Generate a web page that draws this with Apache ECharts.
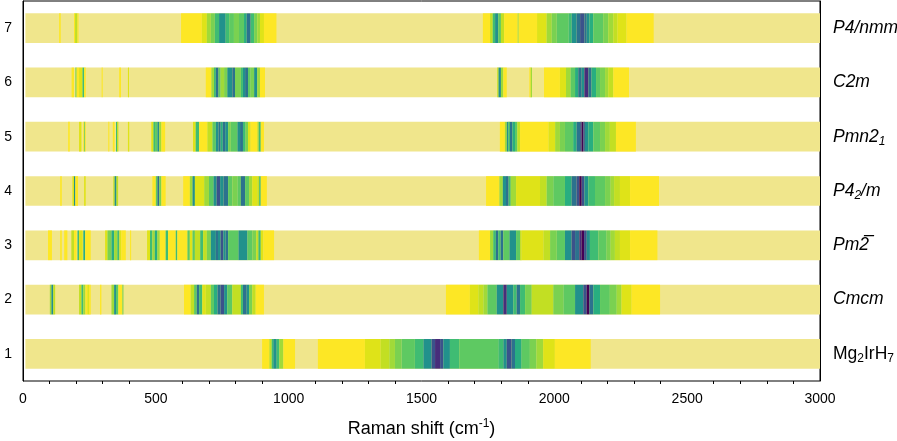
<!DOCTYPE html>
<html>
<head>
<meta charset="utf-8">
<script src="https://cdn.jsdelivr.net/npm/echarts@6/dist/echarts.min.js"></script>
<style>
  html, body { margin: 0; padding: 0; background: #fff; }
  #chart { width: 897px; height: 441px; }
</style>
</head>
<body>
<div id="chart"></div>
<script>
// Row labels on the left axis (bottom to top)
const rowTicks = ['1', '2', '3', '4', '5', '6', '7'];

// Phase names shown on the right, bottom to top
const phaseNames = ['Mg2IrH7', 'Cmcm', 'Pm2bar', 'P42/m', 'Pmn21', 'C2m', 'P4/nmm'];

// Spectral range covered by each band (cm^-1)
const bandRange = [9, 3000];

// Raman stripes per structure: [from cm^-1, to cm^-1, intensity level 0..12]
const row1 = [
  [900, 927, 0], [927, 936, 2], [936, 942, 6], [942, 955, 8], [955, 965, 6], [965, 980, 3], [980, 1024, 0],
  [1110, 1287, 0], [1287, 1346, 1], [1346, 1379, 2], [1379, 1400, 3], [1400, 1425, 4], [1425, 1475, 5],
  [1475, 1507, 6], [1507, 1538, 8], [1538, 1551, 10], [1551, 1570, 11], [1570, 1582, 10], [1582, 1607, 8],
  [1607, 1642, 6], [1642, 1789, 5], [1789, 1808, 6], [1808, 1821, 8], [1821, 1839, 10], [1839, 1852, 9],
  [1852, 1877, 7], [1877, 1908, 5], [1908, 1933, 4], [1933, 1958, 3], [1958, 2002, 1], [2002, 2137, 0]
];
const row2 = [
  [101, 107, 3], [107, 114, 8], [114, 121, 2],
  [211, 220, 2], [220, 227, 6], [227, 235, 3], [235, 242, 0], [242, 249, 1], [249, 255, 0],
  [290, 295, 0],
  [333, 343, 3], [343, 350, 8], [350, 359, 5], [359, 374, 0], [374, 378, 4],
  [606, 631, 0], [631, 644, 2], [644, 654, 5], [654, 663, 9], [663, 675, 6], [675, 688, 1], [688, 707, 2],
  [707, 719, 5], [719, 732, 7], [732, 744, 9], [744, 757, 10], [757, 769, 8], [769, 788, 5], [788, 820, 2],
  [820, 828, 6], [828, 842, 9], [842, 851, 8], [851, 863, 4], [863, 876, 2], [876, 907, 0],
  [1592, 1682, 0], [1682, 1714, 1], [1714, 1733, 2], [1733, 1748, 3], [1748, 1783, 5], [1783, 1808, 8],
  [1808, 1821, 11], [1821, 1846, 8], [1846, 1858, 6], [1858, 1871, 9], [1871, 1890, 6], [1890, 1915, 4],
  [1915, 1996, 2], [1996, 2034, 4], [2034, 2078, 5], [2078, 2109, 8], [2109, 2122, 10], [2122, 2132, 12],
  [2132, 2147, 9], [2147, 2172, 7], [2172, 2209, 5], [2209, 2235, 4], [2235, 2253, 3], [2253, 2291, 1],
  [2291, 2398, 0]
];
const row3 = [
  [94, 109, 0], [140, 146, 0], [155, 167, 0],
  [182, 192, 2], [192, 202, 0], [205, 211, 6], [211, 225, 1], [227, 234, 7], [234, 255, 0],
  [309, 318, 1], [318, 333, 4], [333, 343, 7], [343, 355, 3], [355, 363, 6], [363, 370, 1], [370, 387, 0],
  [403, 407, 0],
  [467, 478, 1], [478, 487, 6], [487, 496, 3], [496, 506, 7], [506, 515, 3], [515, 537, 0], [537, 546, 6],
  [546, 575, 0], [575, 581, 6], [581, 619, 0], [619, 628, 5], [628, 638, 1], [638, 647, 5], [647, 667, 2],
  [667, 678, 6], [678, 692, 2], [692, 707, 4], [707, 726, 8], [726, 734, 9], [734, 744, 8], [744, 754, 10],
  [754, 763, 8], [763, 772, 9], [772, 811, 5], [811, 845, 8], [845, 863, 5], [863, 878, 4], [878, 886, 2],
  [886, 895, 6], [895, 905, 1], [905, 945, 0],
  [1716, 1758, 0], [1758, 1770, 3], [1770, 1780, 6], [1780, 1789, 9], [1789, 1798, 6], [1798, 1808, 9],
  [1808, 1831, 5], [1831, 1856, 8], [1856, 1871, 5], [1871, 1877, 2], [1877, 1959, 1], [1959, 1984, 2],
  [1984, 2009, 4], [2009, 2040, 5], [2040, 2065, 8], [2065, 2078, 10], [2078, 2094, 9], [2094, 2103, 11],
  [2103, 2112, 12], [2112, 2122, 10], [2122, 2134, 8], [2134, 2166, 6], [2166, 2197, 5], [2197, 2212, 4],
  [2212, 2228, 3], [2228, 2247, 2], [2247, 2285, 1], [2285, 2388, 0]
];
const row4 = [
  [140, 146, 0], [186, 192, 1], [192, 197, 8], [197, 207, 0], [230, 236, 1],
  [340, 345, 2], [345, 352, 8], [352, 358, 2],
  [487, 500, 0], [500, 506, 5], [506, 513, 9], [513, 521, 4], [521, 537, 0],
  [603, 628, 0], [628, 638, 3], [638, 647, 8], [647, 682, 1], [682, 700, 3], [700, 717, 5], [717, 729, 8],
  [729, 742, 10], [742, 755, 8], [755, 772, 9], [772, 788, 5], [788, 807, 4], [807, 820, 5], [820, 836, 9],
  [836, 851, 5], [851, 863, 3], [863, 882, 1], [882, 889, 2], [889, 895, 6], [895, 918, 0],
  [1743, 1793, 0], [1793, 1806, 3], [1806, 1818, 8], [1818, 1828, 9], [1828, 1836, 6], [1836, 1856, 3],
  [1856, 1946, 1], [1946, 1971, 2], [1971, 1996, 4], [1996, 2040, 5], [2040, 2065, 7], [2065, 2084, 9],
  [2084, 2094, 10], [2094, 2103, 12], [2103, 2113, 10], [2113, 2128, 8], [2128, 2153, 6], [2153, 2191, 5],
  [2191, 2212, 4], [2212, 2225, 3], [2225, 2247, 2], [2247, 2285, 1], [2285, 2394, 0]
];
const row5 = [
  [170, 176, 0], [211, 220, 1], [227, 230, 0], [230, 233, 5], [233, 236, 0],
  [321, 325, 0], [338, 345, 0], [350, 354, 6], [354, 359, 2], [395, 400, 1],
  [483, 491, 1], [491, 497, 6], [497, 506, 5], [506, 513, 8], [513, 521, 3], [521, 535, 0],
  [640, 650, 1], [650, 663, 6], [663, 694, 0], [694, 713, 2], [713, 726, 5], [726, 736, 8], [736, 744, 9],
  [744, 752, 7], [752, 761, 9], [761, 772, 8], [772, 782, 4], [782, 807, 5], [807, 817, 8], [817, 828, 9],
  [828, 838, 6], [838, 847, 4], [847, 857, 1], [857, 882, 0], [882, 887, 2], [887, 895, 6], [895, 907, 0],
  [1795, 1814, 0], [1814, 1821, 3], [1821, 1827, 8], [1827, 1833, 6], [1833, 1842, 9], [1842, 1852, 7],
  [1852, 1861, 5], [1861, 1871, 2], [1871, 1978, 0], [1978, 2003, 1], [2003, 2021, 3], [2021, 2040, 4],
  [2040, 2071, 5], [2071, 2084, 7], [2084, 2097, 9], [2097, 2103, 10], [2103, 2109, 12], [2109, 2115, 10],
  [2115, 2128, 8], [2128, 2147, 7], [2147, 2172, 5], [2172, 2191, 4], [2191, 2209, 3], [2209, 2232, 2],
  [2232, 2307, 0]
];
const row6 = [
  [183, 192, 0], [197, 202, 4], [202, 211, 0], [211, 224, 1], [224, 230, 6], [230, 236, 0],
  [296, 300, 0], [362, 369, 0], [395, 399, 1],
  [688, 709, 0], [709, 719, 3], [719, 726, 6], [726, 736, 9], [736, 744, 5], [744, 757, 3], [757, 769, 4],
  [769, 788, 8], [788, 798, 9], [798, 820, 4], [820, 828, 6], [828, 836, 8], [836, 847, 9], [847, 857, 5],
  [857, 870, 4], [870, 882, 8], [882, 892, 3], [892, 911, 0],
  [1785, 1790, 2], [1790, 1799, 8], [1799, 1808, 3], [1808, 1821, 0], [1906, 1911, 0], [1911, 1916, 3],
  [1961, 2021, 0], [2021, 2044, 1], [2044, 2061, 3], [2061, 2078, 5], [2078, 2090, 7], [2090, 2103, 9],
  [2103, 2113, 8], [2113, 2128, 11], [2128, 2140, 9], [2140, 2157, 7], [2157, 2172, 5], [2172, 2191, 4],
  [2191, 2203, 3], [2203, 2222, 2], [2222, 2281, 0]
];
const row7 = [
  [136, 142, 0], [192, 196, 0], [196, 205, 2], [205, 209, 0],
  [595, 673, 0], [673, 692, 1], [692, 707, 3], [707, 722, 4], [722, 738, 6], [738, 763, 8], [763, 776, 6],
  [776, 794, 5], [794, 813, 4], [813, 832, 5], [832, 842, 7], [842, 857, 9], [857, 870, 6], [870, 882, 4],
  [882, 892, 3], [892, 907, 1], [907, 954, 0],
  [1731, 1758, 0], [1758, 1768, 2], [1768, 1777, 6], [1777, 1789, 8], [1789, 1799, 5], [1799, 1811, 2],
  [1811, 1862, 0], [1862, 1866, 3], [1866, 1935, 0], [1935, 1971, 1], [1971, 1990, 3], [1990, 2009, 4],
  [2009, 2053, 5], [2053, 2065, 6], [2065, 2084, 8], [2084, 2097, 9], [2097, 2113, 10], [2113, 2122, 9],
  [2122, 2132, 8], [2132, 2147, 7], [2147, 2184, 5], [2184, 2203, 4], [2203, 2222, 3], [2222, 2238, 2],
  [2238, 2272, 1], [2272, 2374, 0]
];
const stripRows = [row1, row2, row3, row4, row5, row6, row7];

// Viridis steps, from weakest (yellow) to strongest (purple)
const viridisSteps = ['#fde725', '#dfe318', '#c2df23', '#a0da39', '#7ad151', '#5ec962', '#3fbc73',
  '#28ae80', '#21918c', '#2c728e', '#3b528b', '#472d7b', '#440154'];

const stripData = [];
stripRows.forEach(function (rows, r) {
  rows.forEach(function (s) { stripData.push([r, s[0], s[1], s[2]]); });
});
const bandData = rowTicks.map(function (_, r) { return [r, bandRange[0], bandRange[1]]; });

function renderBand(params, api) {
  const r = api.value(0);
  const p0 = api.coord([api.value(1), r]);
  const p1 = api.coord([api.value(2), r]);
  const h = api.size([0, 1])[1] * 0.547;
  return {
    type: 'rect',
    shape: { x: p0[0], y: p0[1] - h / 2, width: p1[0] - p0[0], height: h },
    style: { fill: api.visual('color') }
  };
}

const richLabels = {
  i: { fontStyle: 'italic', fontSize: 17.5, fontFamily: 'Liberation Sans', color: '#000' },
  n: { fontSize: 17.5, fontFamily: 'Liberation Sans', color: '#000' },
  is: { fontStyle: 'italic', fontSize: 12, fontFamily: 'Liberation Sans', color: '#000', padding: [10, 0, 0, 0] },
  ns: { fontSize: 12, fontFamily: 'Liberation Sans', color: '#000', padding: [10, 0, 0, 0] }
};
const phaseText = {
  'Mg2IrH7': '{n|Mg}{ns|2}{n|IrH}{ns|7}',
  'Cmcm': '{i|Cmcm}',
  'Pm2bar': '{i|Pm2\u0305}',
  'P42/m': '{i|P4}{is|2}{i|/m}',
  'Pmn21': '{i|Pmn2}{is|1}',
  'C2m': '{i|C2m}',
  'P4/nmm': '{i|P4/nmm}'
};

const chart = echarts.init(document.getElementById('chart'));
chart.setOption({
  animation: false,
  textStyle: { fontFamily: 'Liberation Sans' },
  grid: {
    left: 23, right: 77, top: 1, bottom: 60,
    containLabel: false, outerBoundsMode: 'none',
    show: true, borderColor: '#000', borderWidth: 1
  },
  xAxis: {
    type: 'value', min: 0, max: 3000, interval: 500,
    axisLine: { lineStyle: { color: '#000', width: 1 } },
    axisTick: { length: 5, lineStyle: { color: '#000' } },
    minorTick: { show: true, splitNumber: 5, length: 3, lineStyle: { color: '#000' } },
    splitLine: { show: false },
    axisLabel: { color: '#000', fontSize: 14, margin: 11, formatter: function (v) { return String(v); } },
    name: '{a|Raman shift (cm}{s|-1}{a|)}',
    nameLocation: 'middle', nameGap: 37,
    nameTextStyle: {
      rich: {
        a: { fontSize: 18, color: '#000', fontFamily: 'Liberation Sans' },
        s: { fontSize: 12, color: '#000', fontFamily: 'Liberation Sans', padding: [0, 0, 10, 0] }
      }
    }
  },
  yAxis: [
    {
      type: 'category', data: rowTicks, position: 'left',
      axisLine: { lineStyle: { color: '#000', width: 1 } },
      axisTick: { alignWithLabel: true, length: 6, lineStyle: { color: '#000' } },
      axisLabel: { color: '#000', fontSize: 14, margin: 11 }
    },
    {
      type: 'category', data: phaseNames, position: 'right',
      axisLine: { show: true, lineStyle: { color: '#000', width: 1 } },
      axisTick: { show: false },
      axisLabel: {
        margin: 13,
        formatter: function (v) { return phaseText[v]; },
        rich: richLabels
      }
    }
  ],
  visualMap: {
    type: 'continuous', show: false, min: 0, max: 12, dimension: 3, seriesIndex: 1,
    inRange: { color: viridisSteps }
  },
  series: [
    {
      type: 'custom', name: 'band', renderItem: renderBand,
      encode: { x: [1, 2], y: 0 }, data: bandData,
      itemStyle: { color: '#f0e68c' }, silent: true
    },
    {
      type: 'custom', name: 'Raman', renderItem: renderBand,
      encode: { x: [1, 2], y: 0 }, data: stripData, silent: true
    }
  ]
});
</script>
</body>
</html>
